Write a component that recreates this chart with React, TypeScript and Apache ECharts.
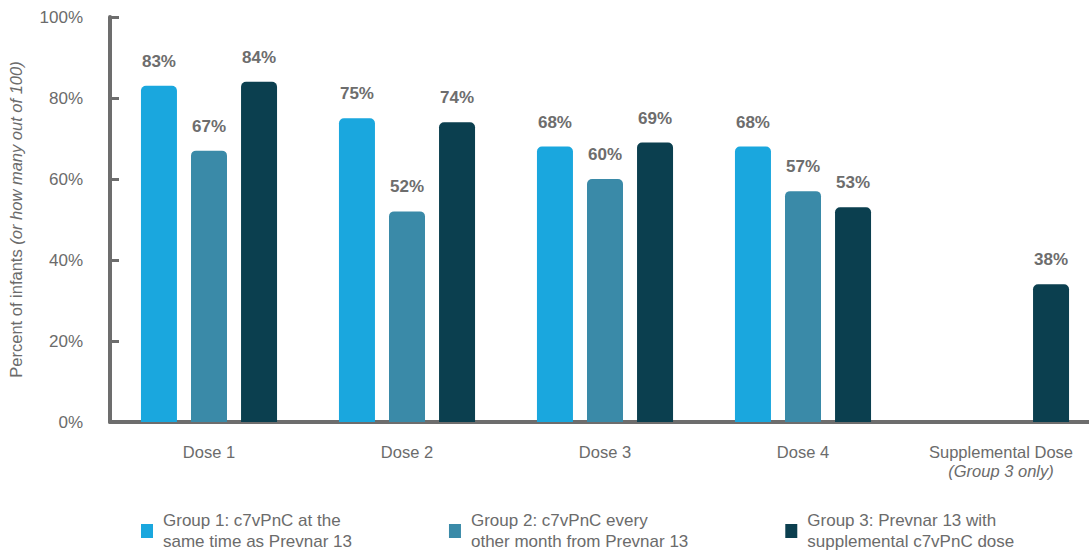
import React, { useEffect, useRef } from "react";
import * as echarts from "echarts";

const categories = ["Dose 1", "Dose 2", "Dose 3", "Dose 4", "Supplemental Dose"];
const group1Values = [83, 75, 68, 68, null];
const group2Values = [67, 52, 60, 57, null];
const group3Values = [84, 74, 69, 53, 34];
const group1Labels = ["83%", "75%", "68%", "68%", ""];
const group2Labels = ["67%", "52%", "60%", "57%", ""];
const group3Labels = ["84%", "74%", "69%", "53%", "38%"];
const seriesNames = [
  "Group 1: c7vPnC at the\nsame time as Prevnar 13",
  "Group 2: c7vPnC every\nother month from Prevnar 13",
  "Group 3: Prevnar 13 with\nsupplemental c7vPnC dose",
];
const colors = ["#1aa7de", "#3a8aa8", "#0b3f4f"];
const yTicks = [0, 20, 40, 60, 80, 100];

const GRAY = "#6b6b6b";
const FONT = "Liberation Sans, Arial, sans-serif";

export default function App() {
  const ref = useRef<HTMLDivElement>(null);
  useEffect(() => {
    document.body.style.margin = "0";
    const chart = echarts.init(ref.current!, null, { renderer: "svg" });
    const values = [group1Values, group2Values, group3Values];
    const labels = [group1Labels, group2Labels, group3Labels];
    chart.setOption({
      animation: false,
      textStyle: { fontFamily: FONT },
      grid: { left: 110, top: 17, width: 990, height: 405, outerBoundsMode: "none", containLabel: false },
      legend: {
        left: 141,
        top: 510,
        padding: 0,
        itemWidth: 12,
        itemHeight: 14,
        itemGap: 97,
        icon: "rect",
        selectedMode: false,
        textStyle: {
          fontFamily: FONT,
          fontSize: 17,
          lineHeight: 21,
          color: GRAY,
          padding: [0, 0, 0, 5],
        },
        data: seriesNames,
      },
      xAxis: {
        type: "category",
        data: categories,
        axisLine: { lineStyle: { color: "#6d6d6d", width: 4 } },
        axisTick: { show: false },
        axisLabel: {
          interval: 0,
          margin: 20,
          color: GRAY,
          fontSize: 16.5,
          fontFamily: FONT,
          formatter: (v: string) =>
            v === "Supplemental Dose" ? "{a|" + v + "}\n{i|(Group 3 only)}" : "{a|" + v + "}",
          rich: {
            a: { fontSize: 16.5, color: GRAY, fontFamily: FONT, lineHeight: 20 },
            i: { fontSize: 16.5, color: GRAY, fontStyle: "italic", fontFamily: FONT, lineHeight: 18 },
          },
        },
      },
      yAxis: {
        type: "value",
        min: yTicks[0],
        max: yTicks[yTicks.length - 1],
        interval: 20,
        name: "{n|Percent of infants }{i|(or how many out of 100)}",
        nameLocation: "middle",
        nameRotate: 90,
        nameGap: 86,
        nameTextStyle: {
          rich: {
            n: { fontSize: 16.5, color: GRAY, fontFamily: FONT },
            i: { fontSize: 16.5, color: GRAY, fontFamily: FONT, fontStyle: "italic" },
          },
        },
        axisLine: { show: true, lineStyle: { color: "#6d6d6d", width: 4 } },
        axisTick: { show: true, inside: true, length: 9, lineStyle: { color: "#6d6d6d", width: 3 } },
        splitLine: { show: false },
        axisLabel: {
          margin: 27,
          color: GRAY,
          fontSize: 17,
          fontFamily: FONT,
          formatter: (v: number) => v + "%",
        },
      },
      series: values.map((vals, i) => ({
        name: seriesNames[i],
        type: "bar",
        data: vals,
        barWidth: 36,
        barGap: "39%",
        itemStyle: { color: colors[i], borderRadius: [5, 5, 0, 0] },
        label: {
          show: true,
          position: "top",
          distance: 16,
          color: "#6d6d6d",
          fontWeight: "bold",
          fontSize: 17,
          fontFamily: FONT,
          formatter: (p: any) => labels[i][p.dataIndex],
        },
      })),
    });
    return () => chart.dispose();
  }, []);
  return <div ref={ref} style={{ width: 1089, height: 553 }} />;
}
